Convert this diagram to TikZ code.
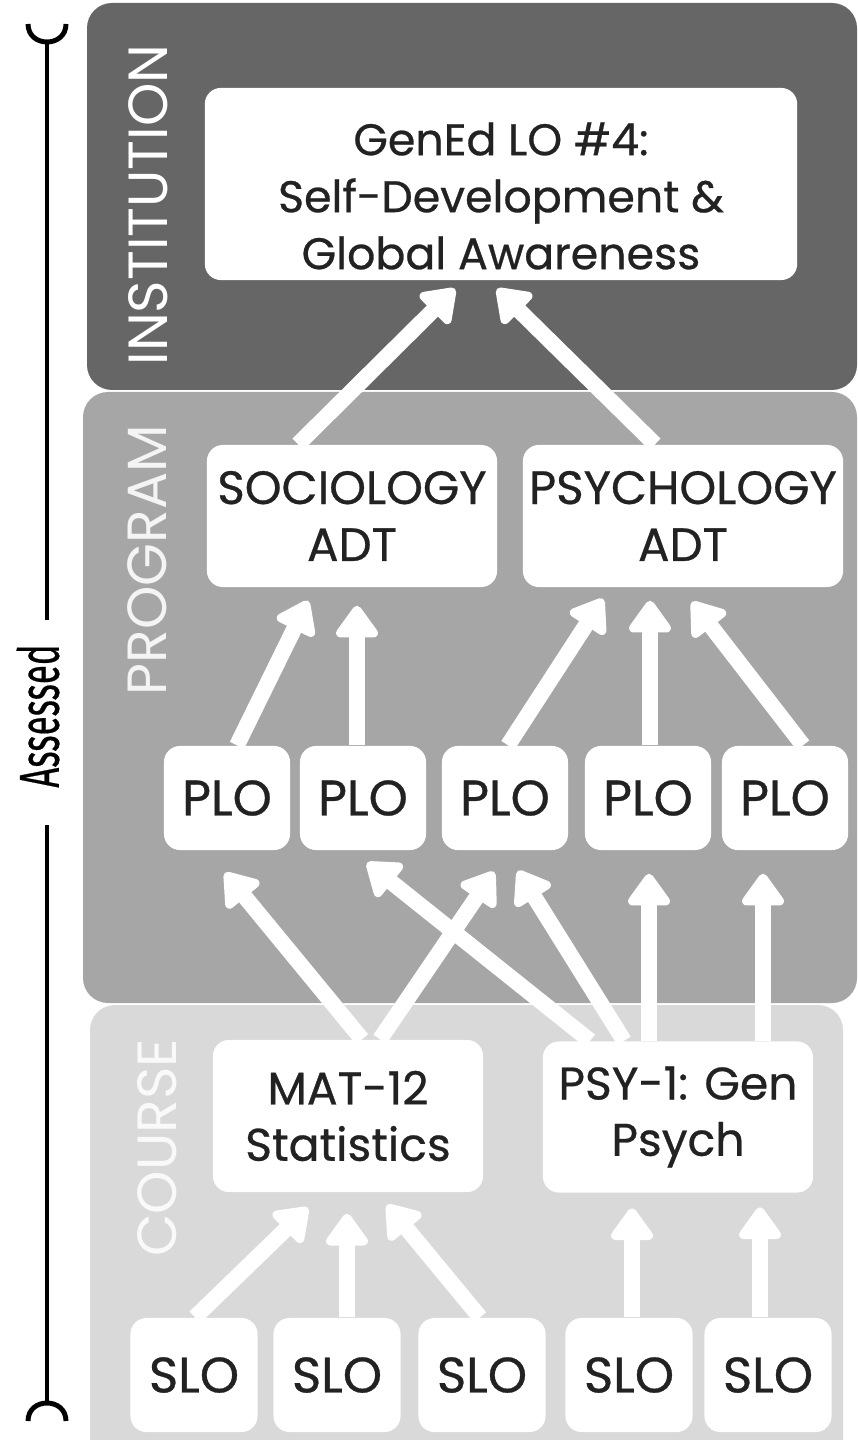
\documentclass[tikz,border=0pt]{standalone}
\usepackage{fontspec}
\setmainfont{Poppins}[FakeBold=0.6]
\newfontfamily\tallfont{Fira Sans}[FakeBold=0.5]
\newfontfamily\tierfont{Poppins}
\usetikzlibrary{arrows.meta,calc}
\definecolor{inst}{HTML}{666666}
\definecolor{prog}{HTML}{A6A6A6}
\definecolor{crse}{HTML}{D9D9D9}
\definecolor{ink}{HTML}{222222}
\tikzset{box/.style={rectangle, rounded corners=1.6mm, fill=white, text=ink, align=center, inner sep=0pt, font=\fontsize{13.3}{16.2}\selectfont},
  tier/.style={rotate=90, inner sep=0pt, font=\tierfont\fontsize{15.7}{15.7}\selectfont},
  up/.style={white, line width=4.5pt, -{Triangle[width=13.6pt,length=10pt,round]}},
  bar/.style={black, line width=1.4pt}}

\begin{document}
\begin{tikzpicture}[x=0.01cm,y=-0.01cm]
\useasboundingbox (0,0) rectangle (858,1440);
\fill[inst,rounded corners=2.5mm] (87,3) rectangle (857,390);
\fill[prog,rounded corners=2.5mm] (83,392) rectangle (857,1003);
\fill[crse,rounded corners=2.5mm] (90,1005) rectangle (843,1480);
\node[tier,white] (inlbl) at (148,205) {INSTITUTION};
\node[tier,white!88!prog] (prlbl) at (147,560) {PROGRAM};
\node[tier,white!85!crse] (colbl) at (157,1148) {COURSE};
\node[box,minimum width=59.2mm,minimum height=19.2mm] (gened) at (501,184) {};
\node[align=center,text=ink,inner sep=0pt,font=\fontsize{12.6}{16.2}\selectfont] (genedtxt) at ($(gened)+(0,12)$) {GenEd LO \#4:\\Self-Development \&\\Global Awareness};
\node[box,minimum width=29mm,minimum height=14.2mm] (soc) at (352,516) {SOCIOLOGY\\ADT};
\node[box,minimum width=32mm,minimum height=14.2mm] (psy) at (683,516) {PSYCHOLOGY\\ADT};
\foreach \n/\x in {1/227,2/363,3/505,4/648,5/785}
  \node[box,minimum width=12.6mm,minimum height=10.4mm,font=\fontsize{14.2}{16}\selectfont] (plo\n) at (\x,798) {PLO};
\node[box,minimum width=27mm,minimum height=15.2mm,font=\fontsize{13}{16}\selectfont] (mat) at (348,1116) {MAT-12\\Statistics};
\node[box,minimum width=27mm,minimum height=15.1mm,font=\fontsize{13}{16}\selectfont] (gen) at (678,1117) {PSY-1: Gen\\Psych};
\foreach \n/\x in {1/194,2/337,3/482,4/629,5/768}
  \node[box,minimum width=12.7mm,minimum height=11.4mm,font=\fontsize{14.2}{16}\selectfont] (slo\n) at (\x,1375) {SLO};
\draw[up] ($(soc.north)+(-54,0)$) -- ($(gened.south)+(-46,8)$);
\draw[up] ($(psy.north)+(-28,0)$) -- ($(gened.south)+(-4,8)$);
\draw[up] ($(plo1.north)+(10,0)$) -- ($(soc.south)+(-44,13)$);
\draw[up] ($(plo2.north)+(-6,0)$) -- ($(soc.south)+(5,18)$);
\draw[up] ($(plo3.north)+(3,0)$) -- ($(psy.south)+(-80,11)$);
\draw[up] ($(plo4.north)+(2,0)$) -- ($(psy.south)+(-33,13)$);
\draw[up] ($(plo5.north)+(18,0)$) -- ($(psy.south)+(9,14)$);
\draw[up] ($(mat.north)+(14,0)$) -- ($(plo1.south)+(-2,22)$);
\draw[up] ($(mat.north)+(32,0)$) -- ($(plo3.south)+(-11,21)$);
\draw[up] ($(gen.north)+(-88,0)$) -- ($(plo2.south)+(4,12)$);
\draw[up] ($(gen.north)+(-54,0)$) -- ($(plo3.south)+(13,20)$);
\draw[up] ($(gen.north)+(-29,0)$) -- ($(plo4.south)+(1,23)$);
\draw[up] ($(gen.north)+(85,0)$) -- ($(plo5.south)+(-22,23)$);
\draw[up] ($(slo1.north)+(1,0)$) -- ($(mat.south)+(-40,15)$);
\draw[up] ($(slo2.north)+(10,0)$) -- ($(mat.south)+(-1,21)$);
\draw[up] ($(slo3.north)+(-2,0)$) -- ($(mat.south)+(39,12)$);
\draw[up] ($(slo4.north)+(3,0)$) -- ($(gen.south)+(-46,15)$);
\draw[up] ($(slo5.north)+(-8,0)$) -- ($(gen.south)+(82,14)$);
\coordinate (atop) at (47,42);
\coordinate (agap1) at (47,620);
\coordinate (agap2) at (47,825);
\coordinate (abot) at (47,1403);
\draw[bar] (atop) -- (agap1) (agap2) -- (abot);
\draw[bar] (28,24) .. controls (28,48) and (66,48) .. (66,24);
\draw[bar] (28,1421) .. controls (28,1397) and (66,1397) .. (66,1421);
\node[rotate=90,inner sep=0pt,font=\tallfont\fontsize{16}{16}\selectfont] (assessed) at (38,716) {\scalebox{0.62}[1]{Assessed}};
\end{tikzpicture}
\end{document}
